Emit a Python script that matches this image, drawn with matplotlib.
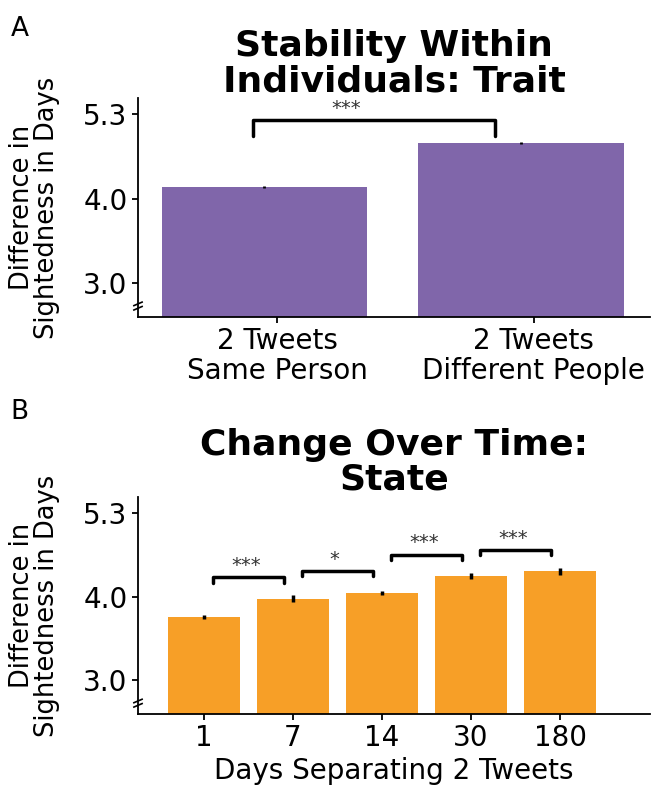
import numpy as np
import matplotlib.pyplot as plt

# panel A: trait (same person vs different people)
trait_labels = ["2 Tweets\nSame Person", "2 Tweets\nDifferent People"]
trait_vals = np.array([4.15, 4.80])
trait_errs = np.array([0.015, 0.015])

# panel B: state (days between tweets)
state_labels = ["1", "7", "14", "30", "180"]
state_vals = np.array([3.74, 3.97, 4.05, 4.28, 4.35])
state_errs = np.array([0.03, 0.045, 0.03, 0.04, 0.05])
state_sig = ["***", "*", "***", "***"]

yticks = [2 ** 1.6, 2 ** 2.0, 2 ** 2.4]
ytick_labels = ["3.0", "4.0", "5.3"]
ylims = (2 ** 1.44, 2 ** 2.475)

purple = "#8066aa"
orange = "#f79f27"
fs = 20
title_fs = 26


def style_axis(ax):
    ax.set_yscale("log", base=2)
    ax.set_ylim(*ylims)
    ax.set_yticks(yticks)
    ax.set_yticklabels(ytick_labels)
    ax.minorticks_off()
    ax.yaxis.set_minor_locator(plt.NullLocator())
    for s in ["top", "right"]:
        ax.spines[s].set_visible(False)
    for s in ["left", "bottom"]:
        ax.spines[s].set_linewidth(1.3)
    ax.tick_params(labelsize=fs, length=4, width=1.3)
    ax.set_ylabel("Difference in\nSightedness in Days", fontsize=18.5, linespacing=0.95)
    ax.yaxis.set_label_coords(-0.152, 0.5)
    # axis break mark on the left spine
    for dy in (0.04, 0.06):
        ax.plot([-0.008, 0.008], [dy - 0.008, dy + 0.008], transform=ax.transAxes,
                color="black", lw=1.2, clip_on=False)


def bracket(ax, x1, x2, y, leg, text, lw=2.5, tfs=14, dy=0.0):
    ax.plot([x1, x1, x2, x2], [y / 2 ** leg, y, y, y / 2 ** leg], color="black",
            lw=lw, solid_capstyle="round", solid_joinstyle="round")
    ax.text((x1 + x2) / 2 + dy, y * 2 ** 0.01, text, ha="center", va="bottom",
            fontsize=tfs, color="#333333")


fig = plt.figure(figsize=(6.58, 7.90), dpi=100)

# ---- A ----
axA = fig.add_axes([138 / 658, 1 - 317 / 790, 512 / 658, 219 / 790])
style_axis(axA)
xa = np.arange(len(trait_vals))
base = ylims[0]
axA.bar(xa, trait_vals - base, bottom=base, width=0.8, color=purple)
axA.errorbar(xa, trait_vals, yerr=trait_errs, fmt="none", ecolor="black", elinewidth=2)
axA.set_xlim(-0.493, 1.503)
axA.set_xticks(xa + 0.05)
axA.set_xticklabels(trait_labels, fontsize=fs, linespacing=1.05)
ya = trait_vals.max() * 2 ** 0.109
bracket(axA, -0.045, 0.90, ya, 0.076, "***", dy=-0.11)
axA.set_title("Stability Within\nIndividuals: Trait", fontsize=title_fs,
              fontweight="bold", pad=4, linespacing=1.05)
fig.text(0.016, 0.963, "A", fontsize=19, va="center")

# ---- B ----
axB = fig.add_axes([138 / 658, 1 - 714 / 790, 512 / 658, 217 / 790])
style_axis(axB)
xb = np.arange(len(state_vals))
axB.bar(xb, state_vals - base, bottom=base, width=0.8, color=orange)
axB.errorbar(xb, state_vals, yerr=state_errs, fmt="none", ecolor="black", elinewidth=2.5)
axB.set_xlim(-0.74, 5.01)
axB.set_xticks(xb)
axB.set_xticklabels(state_labels, fontsize=fs)
axB.set_xlabel("Days Separating 2 Tweets", fontsize=fs, labelpad=3)
for i, s in enumerate(state_sig):
    yb = max(state_vals[i], state_vals[i + 1]) * 2 ** 0.103
    bracket(axB, i + 0.1, i + 0.9, yb, 0.025, s, dy=-0.03)
axB.set_title("Change Over Time:\nState", fontsize=title_fs, fontweight="bold",
              pad=4, linespacing=1.05)
fig.text(0.016, 0.479, "B", fontsize=19, va="center")

fig.savefig("out.png", dpi=100)
